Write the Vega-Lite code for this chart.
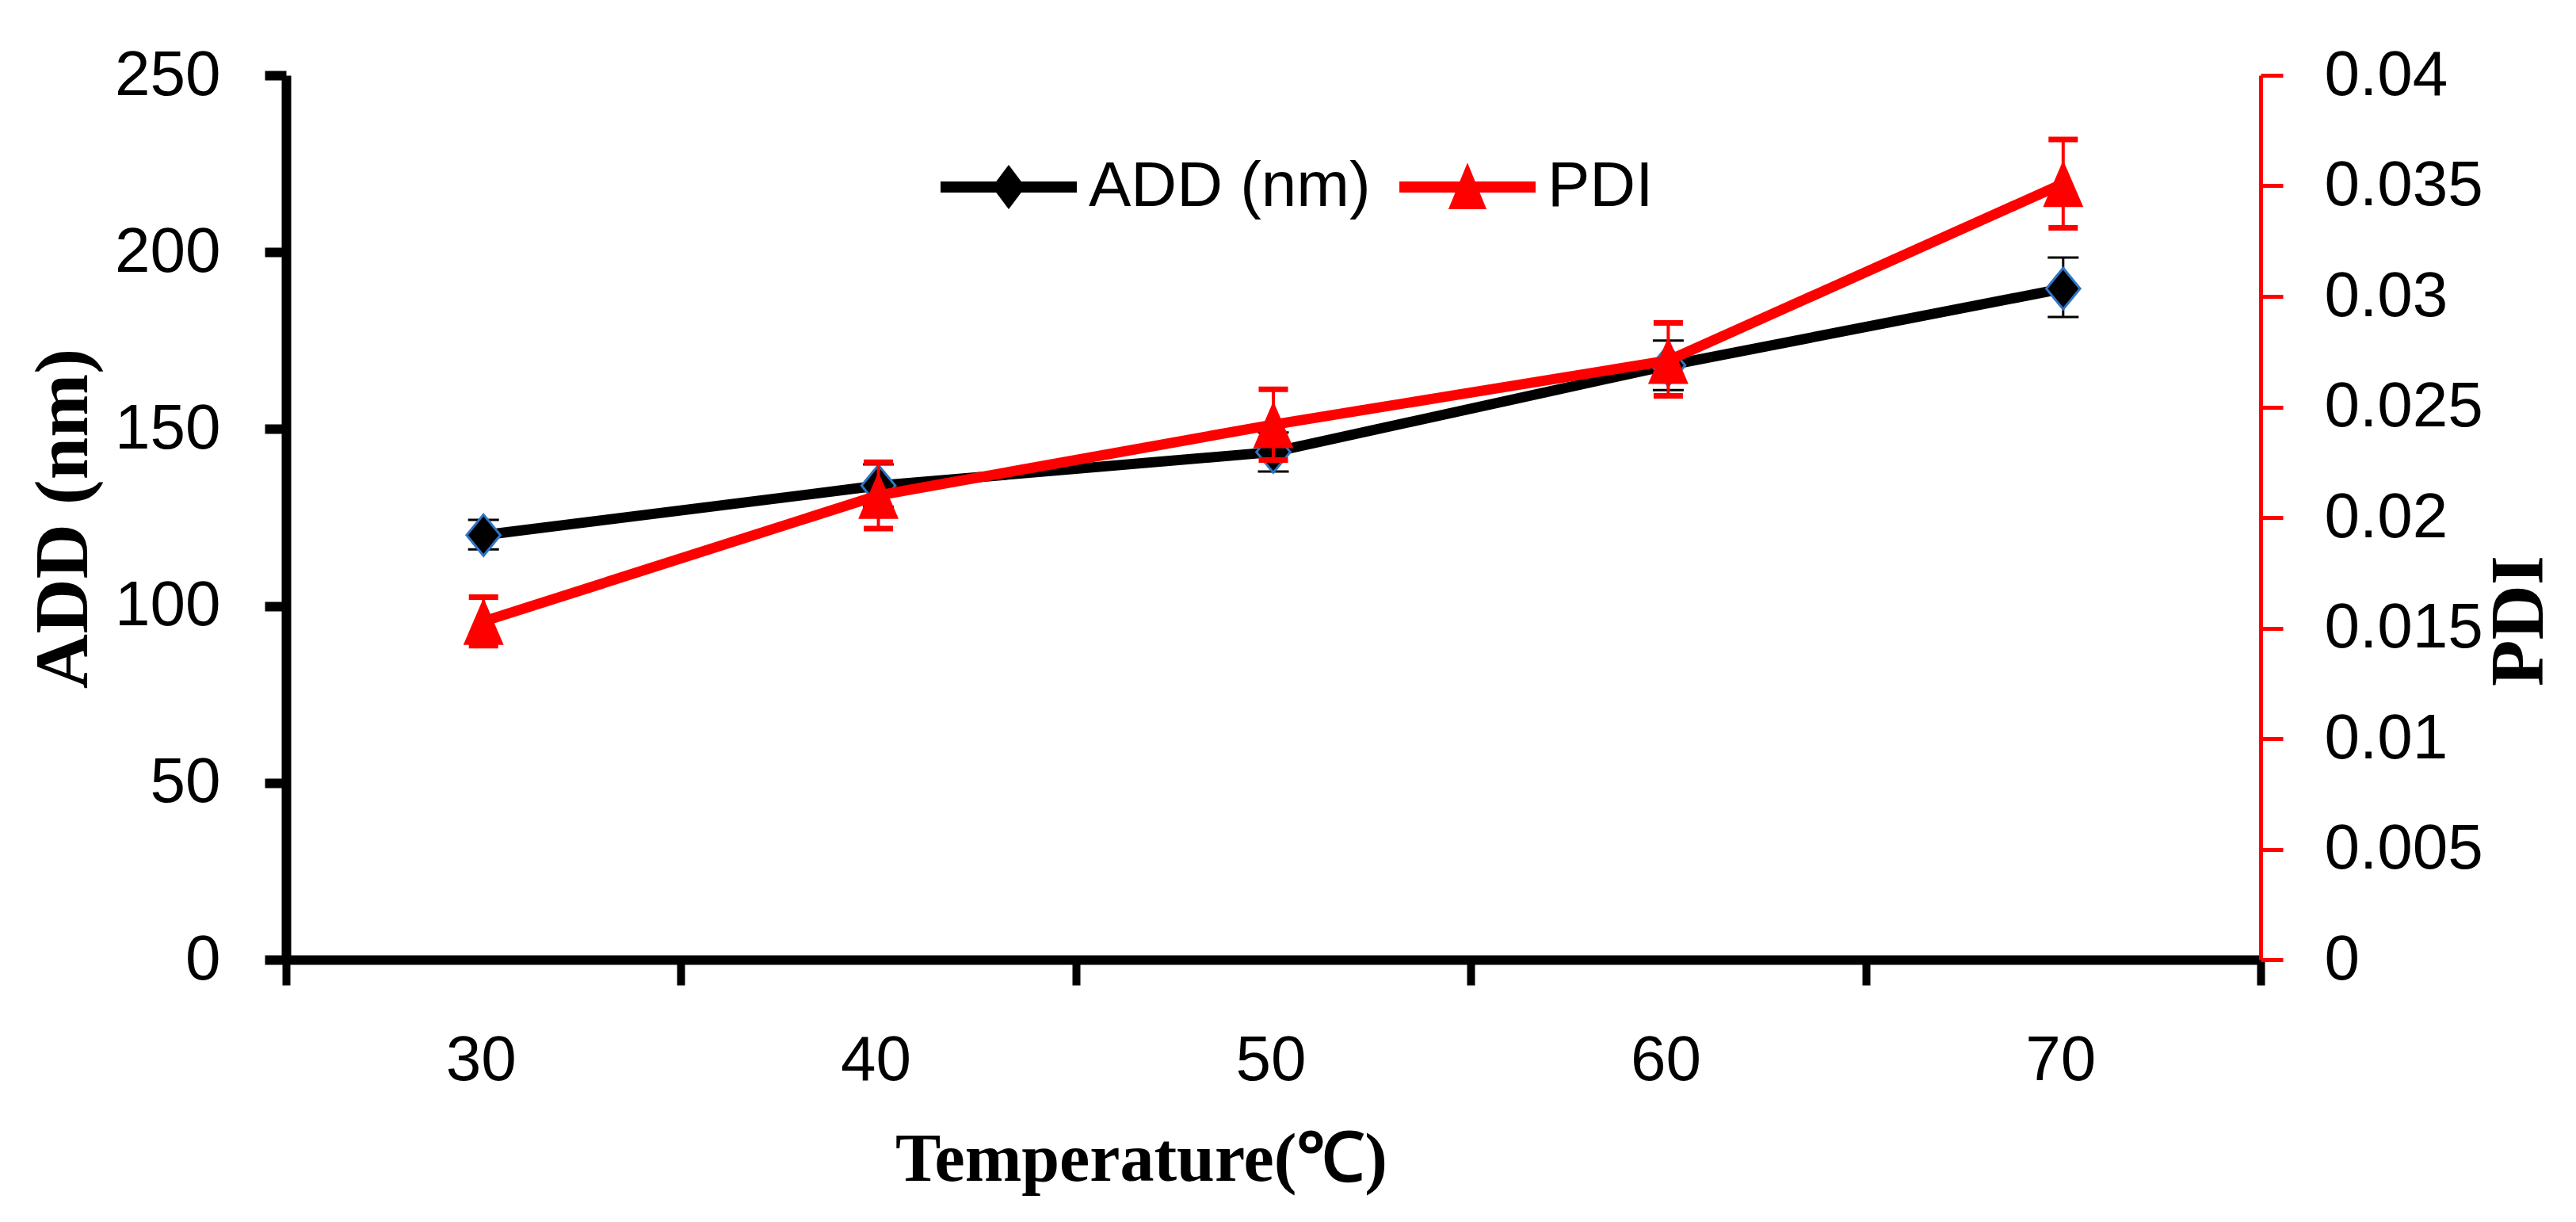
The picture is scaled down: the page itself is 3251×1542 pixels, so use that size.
{
  "$schema": "https://vega.github.io/schema/vega-lite/v6.json",
  "width": 2492,
  "height": 1116,
  "autosize": {"type": "none"},
  "padding": {"left": 361, "top": 95, "right": 398, "bottom": 331},
  "background": "#ffffff",
  "config": {
    "view": {"stroke": null},
    "axis": {
      "grid": false,
      "labelFont": "Liberation Sans",
      "labelFontSize": 80,
      "labelLimit": 1000,
      "labelColor": "#000000",
      "titleFont": "Liberation Serif",
      "titleFontWeight": "bold",
      "titleColor": "#000000"
    }
  },
  "data": {
    "values": [
      {"temp": "30", "add": 120, "add_lo": 116, "add_hi": 124.3, "pdi": 0.0153, "pdi_lo": 0.0142, "pdi_hi": 0.0164},
      {"temp": "40", "add": 134, "add_lo": 128, "add_hi": 140, "pdi": 0.021, "pdi_lo": 0.0195, "pdi_hi": 0.0225},
      {"temp": "50", "add": 143.5, "add_lo": 138, "add_hi": 149, "pdi": 0.0242, "pdi_lo": 0.0226, "pdi_hi": 0.0258},
      {"temp": "60", "add": 168, "add_lo": 161, "add_hi": 175, "pdi": 0.0271, "pdi_lo": 0.0255, "pdi_hi": 0.0288},
      {"temp": "70", "add": 189.7, "add_lo": 181.7, "add_hi": 198.5, "pdi": 0.0351, "pdi_lo": 0.0331, "pdi_hi": 0.0371}
    ]
  },
  "layer": [
    {
      "layer": [
        {
          "mark": {"type": "rule", "color": "#000000", "strokeWidth": 3},
          "encoding": {
            "x": {"field": "temp", "type": "ordinal", "scale": {"type": "band", "paddingInner": 0, "paddingOuter": 0}},
            "y": {"field": "add_lo", "type": "quantitative"},
            "y2": {"field": "add_hi"}
          }
        },
        {
          "mark": {"type": "tick", "color": "#000000", "size": 39, "thickness": 3, "opacity": 1},
          "encoding": {
            "x": {"field": "temp", "type": "ordinal", "scale": {"type": "band", "paddingInner": 0, "paddingOuter": 0}},
            "y": {"field": "add_lo", "type": "quantitative"}
          }
        },
        {
          "mark": {"type": "tick", "color": "#000000", "size": 39, "thickness": 3, "opacity": 1},
          "encoding": {
            "x": {"field": "temp", "type": "ordinal", "scale": {"type": "band", "paddingInner": 0, "paddingOuter": 0}},
            "y": {"field": "add_hi", "type": "quantitative"}
          }
        },
        {
          "mark": {"type": "line", "color": "#000000", "strokeWidth": 13},
          "encoding": {
            "x": {
              "field": "temp",
              "type": "ordinal",
              "scale": {"type": "band", "paddingInner": 0, "paddingOuter": 0},
              "axis": {
                "title": "Temperature(℃)",
                "titleFontSize": 86,
                "titleX": 1079,
                "titleY": 278,
                "titleAlign": "center",
                "titleBaseline": "alphabetic",
                "labelAngle": 0,
                "labelPadding": 95,
                "labelOffset": 41,
                "tickBand": "extent",
                "domainColor": "#000000",
                "domainWidth": 12,
                "tickColor": "#000000",
                "tickWidth": 10,
                "tickSize": 32
              }
            },
            "y": {
              "field": "add",
              "type": "quantitative",
              "scale": {"domain": [0, 250], "nice": false, "zero": true},
              "axis": {
                "orient": "left",
                "values": [0, 50, 100, 150, 200, 250],
                "title": "ADD (nm)",
                "titleFontSize": 96,
                "titleAngle": 270,
                "titleX": -281,
                "titleY": 559,
                "titleAlign": "center",
                "titleBaseline": "middle",
                "labelPadding": 56,
                "domainColor": "#000000",
                "domainWidth": 12,
                "tickColor": "#000000",
                "tickWidth": 12,
                "tickSize": 27
              }
            }
          }
        },
        {
          "mark": {
            "type": "point",
            "shape": "M0,-1 L0.82,0 L0,1 L-0.82,0 Z",
            "size": 2700,
            "filled": true,
            "fill": "#000000",
            "stroke": "#2F75C4",
            "strokeWidth": 3,
            "opacity": 1
          },
          "encoding": {
            "x": {"field": "temp", "type": "ordinal", "scale": {"type": "band", "paddingInner": 0, "paddingOuter": 0}},
            "y": {"field": "add", "type": "quantitative"}
          }
        }
      ]
    },
    {
      "layer": [
        {
          "mark": {"type": "rule", "color": "#FF0000", "strokeWidth": 4},
          "encoding": {
            "x": {"field": "temp", "type": "ordinal", "scale": {"type": "band", "paddingInner": 0, "paddingOuter": 0}},
            "y": {"field": "pdi_lo", "type": "quantitative"},
            "y2": {"field": "pdi_hi"}
          }
        },
        {
          "mark": {"type": "tick", "color": "#FF0000", "size": 37, "thickness": 7, "opacity": 1},
          "encoding": {
            "x": {"field": "temp", "type": "ordinal", "scale": {"type": "band", "paddingInner": 0, "paddingOuter": 0}},
            "y": {"field": "pdi_lo", "type": "quantitative"}
          }
        },
        {
          "mark": {"type": "tick", "color": "#FF0000", "size": 37, "thickness": 7, "opacity": 1},
          "encoding": {
            "x": {"field": "temp", "type": "ordinal", "scale": {"type": "band", "paddingInner": 0, "paddingOuter": 0}},
            "y": {"field": "pdi_hi", "type": "quantitative"}
          }
        },
        {
          "mark": {"type": "line", "color": "#FF0000", "strokeWidth": 13},
          "encoding": {
            "x": {"field": "temp", "type": "ordinal", "scale": {"type": "band", "paddingInner": 0, "paddingOuter": 0}},
            "y": {
              "field": "pdi",
              "type": "quantitative",
              "scale": {"domain": [0, 0.04], "nice": false, "zero": true},
              "axis": {
                "orient": "right",
                "values": [0, 0.005, 0.01, 0.015, 0.02, 0.025, 0.03, 0.035, 0.04],
                "format": "~g",
                "title": "PDI",
                "titleFontSize": 96,
                "titleAngle": 270,
                "titleX": 326,
                "titleY": 688,
                "titleAlign": "center",
                "titleBaseline": "middle",
                "labelPadding": 52,
                "domainColor": "#FF0000",
                "domainWidth": 5,
                "tickColor": "#FF0000",
                "tickWidth": 5,
                "tickSize": 28
              }
            }
          }
        },
        {
          "mark": {
            "type": "point",
            "shape": "M0,-1 L0.86,1 L-0.86,1 Z",
            "size": 3500,
            "filled": true,
            "fill": "#FF0000",
            "strokeWidth": 0,
            "opacity": 1
          },
          "encoding": {
            "x": {"field": "temp", "type": "ordinal", "scale": {"type": "band", "paddingInner": 0, "paddingOuter": 0}},
            "y": {"field": "pdi", "type": "quantitative"}
          }
        }
      ]
    },
    {
      "data": {"values": [{"series": "ADD (nm)"}, {"series": "PDI"}]},
      "transform": [{"filter": "datum.series == 'none'"}],
      "mark": {"type": "point", "filled": true, "opacity": 1},
      "encoding": {
        "color": {
          "field": "series",
          "type": "nominal",
          "scale": {"domain": ["ADD (nm)", "PDI"], "range": ["#000000", "#FF0000"]},
          "legend": {
            "orient": "none",
            "legendX": 872,
            "legendY": 101,
            "direction": "horizontal",
            "title": null,
            "padding": 0,
            "symbolSize": 3136,
            "symbolStrokeWidth": 0,
            "labelFont": "Liberation Sans",
            "labelFontSize": 80,
            "labelColor": "#000000",
            "labelLimit": 1000,
            "labelOffset": 61,
            "columnPadding": 36
          }
        },
        "shape": {
          "field": "series",
          "type": "nominal",
          "scale": {
            "domain": ["ADD (nm)", "PDI"],
            "range": [
              "M-3.07,-0.25 H3.07 V0.25 H-3.07 Z M0,-1 L0.75,0 L0,1 L-0.75,0 Z",
              "M-3.07,-0.25 H3.07 V0.25 H-3.07 Z M0,-1.1 L0.86,1 L-0.86,1 Z"
            ]
          },
          "legend": {
            "orient": "none",
            "legendX": 872,
            "legendY": 101,
            "direction": "horizontal",
            "title": null,
            "padding": 0,
            "symbolSize": 3136,
            "symbolStrokeWidth": 0,
            "labelFont": "Liberation Sans",
            "labelFontSize": 80,
            "labelColor": "#000000",
            "labelLimit": 1000,
            "labelOffset": 61,
            "columnPadding": 36
          }
        }
      }
    }
  ],
  "resolve": {"scale": {"y": "independent"}, "axis": {"y": "independent"}}
}
